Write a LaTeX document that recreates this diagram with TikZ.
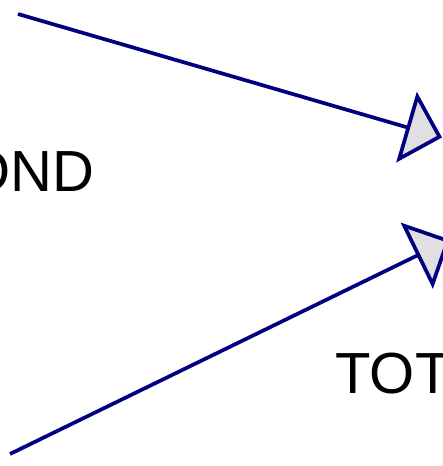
\documentclass[tikz,border=0pt]{standalone}
\usepackage{fontspec}
\setmainfont{Liberation Sans}
\usepackage{xcolor}
\usetikzlibrary{arrows.meta}
\definecolor{navy}{HTML}{000080}
\definecolor{headfill}{HTML}{E0E0E0}

\begin{document}
\begin{tikzpicture}[x=1pt,y=1pt,
  link/.style={draw=navy,line width=3.7pt,-{Triangle[open,length=37pt,width=73pt,fill=headfill]}},
  label/.style={anchor=base west,inner sep=0pt,font=\fontsize{58}{70}\selectfont}]
  \useasboundingbox (0,0) rectangle (443,466);
  \clip (0,0) rectangle (443,466);
  \coordinate (srcA) at (18,452);
  \coordinate (srcB) at (10,12);
  \coordinate (inA) at (442,328.5);
  \coordinate (inB) at (450,226.5);
  \node[label] (cond) at (-34.9,274.3) {OND};
  \node[label] (tot) at (335.4,72) {TOT};
  \draw[link] (srcA) -- (inA);
  \draw[link] (srcB) -- (inB);
\end{tikzpicture}
\end{document}
